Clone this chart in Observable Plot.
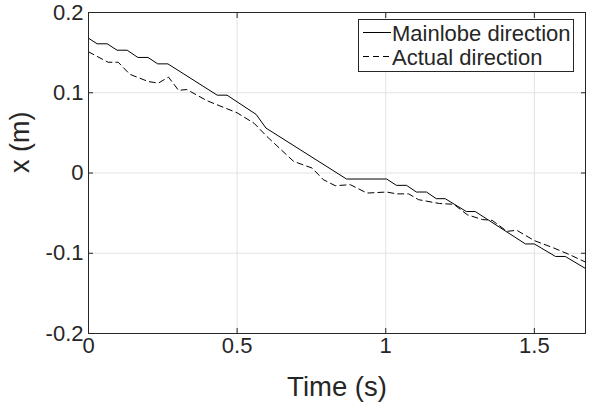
<!DOCTYPE html>
<html>
<head>
<meta charset="utf-8">
<script src="https://cdn.jsdelivr.net/npm/d3@7"></script>
<script src="https://cdn.jsdelivr.net/npm/@observablehq/plot@0.6"></script>
<style>
  html, body { margin: 0; padding: 0; background: #fff; }
  #wrap { position: relative; width: 591px; height: 403px; }
  #legend { position: absolute; left: 0; top: 0; }
</style>
</head>
<body>
<div id="wrap"></div>
<script>
// ---- Data ----
const seriesNames = ["Mainlobe direction", "Actual direction"];

const timeMain = [0, 0.029, 0.063, 0.096, 0.13, 0.166, 0.2, 0.233, 0.267, 0.433, 0.466, 0.564, 0.597, 0.868, 1.003, 1.036, 1.07, 1.103, 1.137, 1.17, 1.2, 1.271, 1.301, 1.47, 1.5, 1.571, 1.604, 1.672];
const xMain = [0.168, 0.161, 0.161, 0.153, 0.153, 0.144, 0.144, 0.136, 0.136, 0.097, 0.097, 0.073, 0.056, -0.0075, -0.0075, -0.0154, -0.0154, -0.0237, -0.0237, -0.032, -0.032, -0.048, -0.048, -0.0884, -0.0884, -0.104, -0.104, -0.119];

const timeAct = [0, 0.066, 0.1, 0.139, 0.201, 0.235, 0.269, 0.303, 0.331, 0.399, 0.5, 0.557, 0.6, 0.69, 0.752, 0.79, 0.83, 0.881, 0.937, 1.003, 1.037, 1.077, 1.11, 1.18, 1.229, 1.274, 1.325, 1.358, 1.408, 1.441, 1.5, 1.565, 1.62, 1.672];
const xAct = [0.151, 0.138, 0.138, 0.123, 0.114, 0.112, 0.1195, 0.103, 0.104, 0.090, 0.075, 0.062, 0.0456, 0.0145, 0.0062, -0.0083, -0.0158, -0.0146, -0.025, -0.0237, -0.026, -0.026, -0.0332, -0.038, -0.039, -0.052, -0.058, -0.059, -0.0727, -0.0714, -0.0843, -0.0934, -0.102, -0.111];

const xTicks = [0, 0.5, 1, 1.5];
const yTicks = [-0.2, -0.1, 0, 0.1, 0.2];
const xDomain = [0, 1.672];
const yDomain = [-0.2, 0.2];
const xLabel = "Time (s)";
const yLabel = "x (m)";

// ---- Build ----
const mainData = timeMain.map((t, i) => ({t, v: xMain[i]}));
const actData = timeAct.map((t, i) => ({t, v: xAct[i]}));

const font = "'Liberation Sans', Arial, Helvetica, sans-serif";
const ink = "#262626";
const blank = () => "";

const chart = Plot.plot({
  width: 591,
  height: 403,
  marginLeft: 88,
  marginRight: 6,
  marginTop: 12,
  marginBottom: 70,
  style: {fontFamily: font, color: ink, background: "#fff", overflow: "visible"},
  x: {domain: xDomain, label: null},
  y: {domain: yDomain, label: null},
  marks: [
    Plot.gridX(xTicks, {stroke: "#e3e3e3", strokeOpacity: 1}),
    Plot.gridY(yTicks, {stroke: "#e3e3e3", strokeOpacity: 1}),
    Plot.line(mainData, {x: "t", y: "v", stroke: "#000", strokeWidth: 1}),
    Plot.line(actData, {x: "t", y: "v", stroke: "#000", strokeWidth: 1, strokeDasharray: "6,4"}),
    Plot.frame({stroke: ink, strokeWidth: 1}),
    Plot.axisX(xTicks, {anchor: "bottom", tickSize: -5, tickFormat: blank, label: null, stroke: ink}),
    Plot.axisX(xTicks, {anchor: "top", tickSize: -5, tickFormat: blank, label: null, stroke: ink}),
    Plot.axisY(yTicks, {anchor: "left", tickSize: -5, tickFormat: blank, label: null, stroke: ink}),
    Plot.axisY(yTicks, {anchor: "right", tickSize: -5, tickFormat: blank, label: null, stroke: ink}),
    Plot.axisX(xTicks, {anchor: "bottom", tickSize: 0, tickPadding: 4, fontSize: 22, tickFormat: d => String(d), label: null, fill: ink}),
    Plot.axisY(yTicks, {anchor: "left", tickSize: 0, tickPadding: 5, fontSize: 22, tickFormat: d => String(d), label: null, fill: ink}),
    Plot.text([xLabel], {frameAnchor: "bottom", text: d => d, dy: 53.5, lineAnchor: "middle", fontSize: 27.5, fill: ink}),
    Plot.text([yLabel], {frameAnchor: "left", text: d => d, rotate: -90, dx: -68, lineAnchor: "middle", fontSize: 27, fill: ink})
  ]
});

const wrap = document.getElementById("wrap");
wrap.appendChild(chart);

// ---- Legend (inside axes, upper right) ----
const ns = "http://www.w3.org/2000/svg";
const leg = document.createElementNS(ns, "svg");
leg.setAttribute("id", "legend");
leg.setAttribute("width", 591);
leg.setAttribute("height", 403);
leg.style.pointerEvents = "none";
const box = document.createElementNS(ns, "rect");
box.setAttribute("x", 358.5);
box.setAttribute("y", 19.5);
box.setAttribute("width", 215);
box.setAttribute("height", 52);
box.setAttribute("fill", "#fff");
box.setAttribute("stroke", ink);
leg.appendChild(box);
const dashes = [null, "6,4"];
seriesNames.forEach((name, i) => {
  const y = 32.5 + i * 24;
  const ln = document.createElementNS(ns, "line");
  ln.setAttribute("x1", 363);
  ln.setAttribute("x2", 391);
  ln.setAttribute("y1", y);
  ln.setAttribute("y2", y);
  ln.setAttribute("stroke", "#000");
  if (dashes[i]) ln.setAttribute("stroke-dasharray", dashes[i]);
  leg.appendChild(ln);
  const tx = document.createElementNS(ns, "text");
  tx.setAttribute("x", 392);
  tx.setAttribute("y", 41 + i * 24);
  tx.setAttribute("font-family", font.replace(/'/g, ""));
  tx.setAttribute("font-size", 22);
  tx.setAttribute("fill", ink);
  tx.textContent = name;
  leg.appendChild(tx);
});
wrap.appendChild(leg);
</script>
</body>
</html>
